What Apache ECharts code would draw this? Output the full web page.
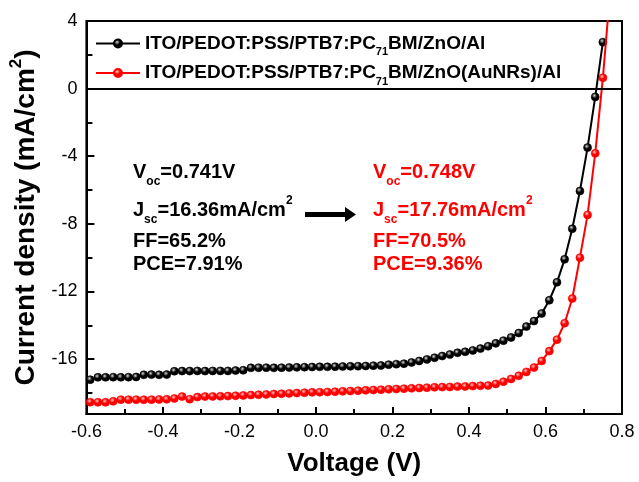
<!DOCTYPE html>
<html>
<head>
<meta charset="utf-8">
<script src="https://cdn.jsdelivr.net/npm/echarts@6/dist/echarts.min.js"></script>
<style>
  html, body { margin: 0; padding: 0; background: #fff; }
  #chart { width: 639px; height: 482px; }
</style>
</head>
<body>
<div id="chart"></div>
<script>
// J-V curves of the reference device and the AuNR-modified device
const voltage = [
  -0.59, -0.57, -0.55, -0.53, -0.51, -0.49, -0.47, -0.45, -0.43, -0.41,
  -0.39, -0.37, -0.35, -0.33, -0.31, -0.29, -0.27, -0.25, -0.23, -0.21,
  -0.19, -0.17, -0.15, -0.13, -0.11, -0.09, -0.07, -0.05, -0.03, -0.01,
   0.01,  0.03,  0.05,  0.07,  0.09,  0.11,  0.13,  0.15,  0.17,  0.19,
   0.21,  0.23,  0.25,  0.27,  0.29,  0.31,  0.33,  0.35,  0.37,  0.39,
   0.41,  0.43,  0.45,  0.47,  0.49,  0.51,  0.53,  0.55,  0.57,  0.59,
   0.61,  0.63,  0.65,  0.67,  0.69,  0.71,  0.73,  0.75,  0.77
];

const jRef = [
  -17.22, -17.08, -17.08, -17.07, -17.08, -17.07, -17.06, -16.93, -16.92, -16.93,
  -16.92, -16.72, -16.71, -16.71, -16.70, -16.71, -16.70, -16.70, -16.70, -16.68,
  -16.66, -16.52, -16.51, -16.51, -16.52, -16.51, -16.50, -16.49, -16.48, -16.47,
  -16.46, -16.46, -16.45, -16.44, -16.43, -16.42, -16.41, -16.39, -16.38, -16.33,
  -16.30, -16.27, -16.20, -16.11, -16.02, -15.92, -15.82, -15.73, -15.63, -15.57,
  -15.49, -15.38, -15.24, -15.07, -14.91, -14.72, -14.46, -14.08, -13.75, -13.30,
  -12.52, -11.46, -10.10, -8.29, -6.06, -3.49, -0.49, 2.75
];

const jAuNR = [
  -18.55, -18.56, -18.56, -18.50, -18.40, -18.40, -18.40, -18.41, -18.40, -18.39,
  -18.38, -18.33, -18.22, -18.37, -18.25, -18.22, -18.21, -18.20, -18.19, -18.17,
  -18.15, -18.13, -18.11, -18.09, -18.07, -18.05, -18.03, -18.01, -17.99, -17.97,
  -17.96, -17.95, -17.93, -17.91, -17.89, -17.87, -17.85, -17.83, -17.81, -17.79,
  -17.77, -17.75, -17.73, -17.71, -17.69, -17.67, -17.66, -17.65, -17.63, -17.62,
  -17.60, -17.58, -17.57, -17.47, -17.34, -17.18, -16.99, -16.76, -16.50, -16.11,
  -15.53, -14.85, -13.88, -12.42, -10.00, -7.47, -3.83, 0.64, 6.00
];

const seriesNames = [
  'ITO/PEDOT:PSS/PTB7:PC71BM/ZnO/Al',
  'ITO/PEDOT:PSS/PTB7:PC71BM/ZnO(AuNRs)/Al'
];
const seriesColors = ['#000000', '#ff0000'];
const highlightColors = ['#d8d8d8', '#ffc8c8'];

const xTicks = [-0.6, -0.4, -0.2, 0.0, 0.2, 0.4, 0.6, 0.8];
const yMajorTicks = [-16, -12, -8, -4, 0, 4];
const yMinorTicks = [-18, -14, -10, -6, -2, 2];

// Device parameters printed inside the plot
const paramsRef = { voc: '0.741V', jsc: '16.36mA/cm', ff: '65.2%', pce: '7.91%' };
const paramsAuNR = { voc: '0.748V', jsc: '17.76mA/cm', ff: '70.5%', pce: '9.36%' };

const FONT = '"Liberation Sans", Arial, sans-serif';

function pairs(ys) {
  return ys.map((y, i) => [voltage[i], y]);
}

function ball(i) {
  return {
    type: 'radial', x: 0.4, y: 0.35, r: 0.65,
    colorStops: [
      { offset: 0, color: highlightColors[i] },
      { offset: 0.45, color: seriesColors[i] },
      { offset: 1, color: seriesColors[i] }
    ]
  };
}

function makeSeries(i, ys) {
  return {
    name: seriesNames[i],
    type: 'line',
    data: pairs(ys),
    symbol: 'circle',
    symbolSize: 8,
    showSymbol: true,
    clip: true,
    lineStyle: { color: seriesColors[i], width: 2 },
    itemStyle: { color: ball(i), borderColor: seriesColors[i], borderWidth: 0.6 },
    emphasis: { disabled: true },
    animation: false,
    z: 3 + i
  };
}

const mainRich = (color) => ({
  m: { fontFamily: FONT, fontWeight: 'bold', fontSize: 20, fill: color, color: color },
  s: { fontFamily: FONT, fontWeight: 'bold', fontSize: 12, fill: color, color: color, padding: [20, 0, 0, 0] },
  p: { fontFamily: FONT, fontWeight: 'bold', fontSize: 12, fill: color, color: color, padding: [0, 0, 18, 0] }
});

function paramBlock(x, p, color) {
  const rows = [
    { y: 172, text: '{m|V}{s|oc}{m|=' + p.voc + '}' },
    { y: 210, text: '{m|J}{s|sc}{m|=' + p.jsc + '}{p|2}' },
    { y: 241.5, text: '{m|FF=' + p.ff + '}' },
    { y: 264.5, text: '{m|PCE=' + p.pce + '}' }
  ];
  return rows.map(r => ({
    type: 'text',
    x: x,
    y: r.y,
    silent: true,
    style: {
      text: r.text,
      rich: mainRich(color),
      align: 'left',
      verticalAlign: 'middle'
    }
  }));
}

const chart = echarts.init(document.getElementById('chart'), null, { renderer: 'canvas' });

const option = {
  backgroundColor: '#ffffff',
  animation: false,
  grid: {
    left: 83, right: 17, top: 21, bottom: 61,
    show: true, borderColor: '#000', borderWidth: 2, backgroundColor: 'transparent'
  },
  legend: {
    orient: 'vertical',
    left: 90,
    top: 29,
    itemWidth: 44,
    itemHeight: 10,
    itemGap: 6,
    selectedMode: false,
    data: seriesNames,
    formatter: (name) => {
      const parts = name.split('71');
      return '{t|' + parts[0] + '}{s|71}{t|' + parts[1] + '}';
    },
    textStyle: {
      fontFamily: FONT,
      rich: {
        t: { fontFamily: FONT, fontWeight: 'bold', fontSize: 19, color: '#000' },
        s: { fontFamily: FONT, fontWeight: 'bold', fontSize: 11, color: '#000', padding: [17, 0, 0, 0] }
      }
    }
  },
  xAxis: {
    type: 'value',
    min: -0.6,
    max: 0.8,
    interval: 0.2,
    name: 'Voltage (V)',
    nameLocation: 'middle',
    nameGap: 37,
    nameTextStyle: { fontFamily: FONT, fontWeight: 'bold', fontSize: 26, color: '#000' },
    axisLine: { show: true, onZero: false, lineStyle: { color: '#000', width: 2 } },
    axisTick: { show: true, inside: true, length: 7, lineStyle: { color: '#000', width: 2 } },
    minorTick: { show: true, splitNumber: 2, length: 5, lineStyle: { color: '#000', width: 2 } },
    axisLabel: {
      margin: 9,
      fontFamily: FONT, fontSize: 18, color: '#000',
      formatter: (v) => {
        const hit = xTicks.find(t => Math.abs(t - v) < 1e-6);
        return hit === undefined ? '' : hit.toFixed(1);
      }
    },
    splitLine: { show: false }
  },
  yAxis: [
    {
      type: 'value',
      min: -19.25,
      max: 4,
      name: 'Current density (mA/cm{p|2})',
      nameLocation: 'middle',
      nameGap: 41,
      nameRotate: 90,
      nameTextStyle: {
        fontFamily: FONT, fontWeight: 'bold', fontSize: 28, color: '#000',
        rich: {
          p: { fontFamily: FONT, fontWeight: 'bold', fontSize: 17, color: '#000', padding: [0, 0, 20, 0] }
        }
      },
      axisLine: { show: true, onZero: false, lineStyle: { color: '#000', width: 2 } },
      axisTick: { show: true, inside: true, length: 8, customValues: yMajorTicks, lineStyle: { color: '#000', width: 2 } },
      axisLabel: {
        margin: 9, fontFamily: FONT, fontSize: 18, color: '#000',
        customValues: yMajorTicks,
        formatter: (v) => String(Math.round(v))
      },
      splitLine: { show: false }
    },
    {
      // carries only the short intermediate ticks on the left edge
      type: 'value',
      min: -19.25,
      max: 4,
      position: 'left',
      offset: 0,
      axisLine: { show: true, onZero: false, lineStyle: { color: 'rgba(0,0,0,0)', width: 0 } },
      axisTick: { show: true, inside: true, length: 6, customValues: yMinorTicks, lineStyle: { color: '#000', width: 2 } },
      axisLabel: { show: false, customValues: yMinorTicks },
      splitLine: { show: false }
    }
  ],
  series: [
    Object.assign(makeSeries(0, jRef), {
      markLine: {
        silent: true,
        symbol: ['none', 'none'],
        label: { show: false },
        lineStyle: { color: '#000', width: 2, type: 'solid' },
        emphasis: { disabled: true },
        animation: false,
        data: [{ yAxis: 0 }]
      }
    }),
    makeSeries(1, jAuNR)
  ],
  graphic: [
    ...paramBlock(133, paramsRef, '#000'),
    ...paramBlock(373, paramsAuNR, '#ff0000'),
    {
      type: 'polygon',
      silent: true,
      shape: {
        points: [[305, 212], [345, 212], [345, 207], [356, 214.5], [345, 222], [345, 217], [305, 217]]
      },
      style: { fill: '#000' }
    }
  ]
};

chart.setOption(option);
</script>
</body>
</html>
